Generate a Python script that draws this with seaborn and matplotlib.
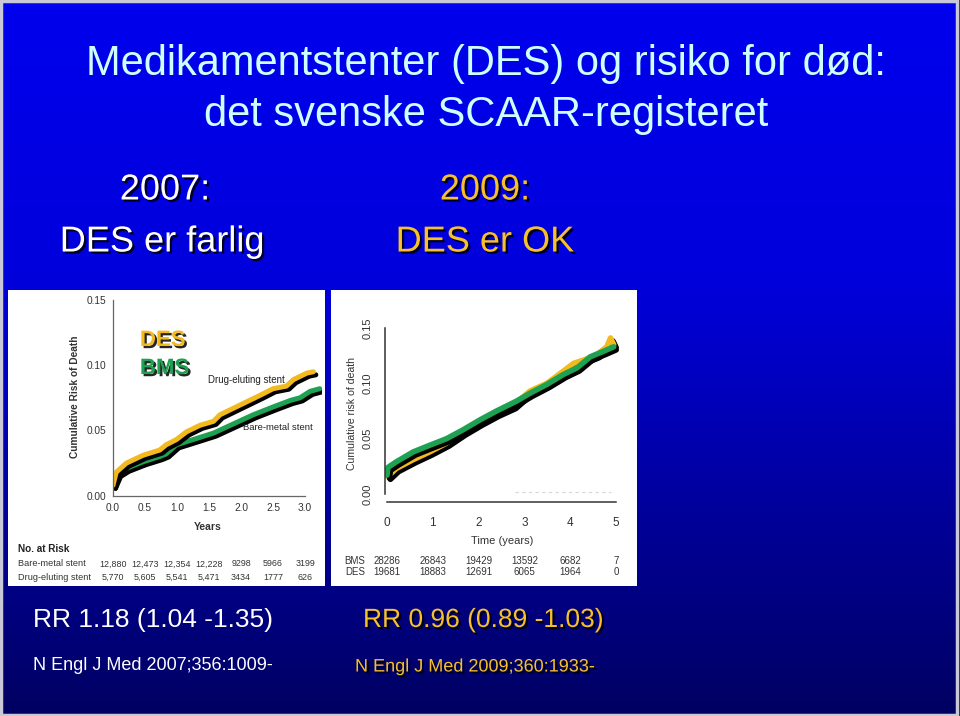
import numpy as np
import matplotlib
matplotlib.use("Agg")
import matplotlib.pyplot as plt
import matplotlib.patheffects as pe
from matplotlib.patches import Rectangle
import seaborn as sns

sns.set_theme(style="white")
plt.rcParams['font.family'] = ['Liberation Sans', 'DejaVu Sans']

# ---------------- data ----------------
# 2007 study (left chart)
des07_years = [0, 0.05, 0.21, 0.47, 0.73, 0.83, 0.99, 1.15, 1.36, 1.57, 1.67, 1.88,
               2.09, 2.30, 2.50, 2.71, 2.82, 3.03, 3.13]
des07_risk = [0.008, 0.018, 0.025, 0.031, 0.035, 0.039, 0.043, 0.049, 0.054, 0.057,
              0.062, 0.067, 0.072, 0.077, 0.082, 0.084, 0.089, 0.094, 0.095]
bms07_years = [0, 0.08, 0.21, 0.47, 0.73, 0.83, 0.99, 1.25, 1.57, 1.88, 2.19, 2.50,
               2.77, 2.92, 3.08, 3.23]
bms07_risk = [0.008, 0.017, 0.021, 0.026, 0.030, 0.032, 0.039, 0.043, 0.048, 0.055,
              0.062, 0.068, 0.073, 0.075, 0.080, 0.082]
risk07_ticks = [0.0, 0.5, 1.0, 1.5, 2.0, 2.5, 3.0]
risk07_bms = ["12,880", "12,473", "12,354", "12,228", "9298", "5966", "3199"]
risk07_des = ["5,770", "5,605", "5,541", "5,471", "3434", "1777", "626"]

# 2009 study (right chart)
bms09_years = [0, 0.02, 0.2, 0.57, 0.93, 1.3, 1.66, 2.03, 2.39, 2.83, 3.12, 3.49,
               3.85, 4.15, 4.44, 4.73, 4.95]
bms09_risk = [0.017, 0.024, 0.029, 0.038, 0.044, 0.050, 0.058, 0.067, 0.075, 0.084,
              0.091, 0.099, 0.108, 0.114, 0.124, 0.129, 0.133]
des09_years = [0.02, 0.2, 0.57, 0.93, 1.3, 1.66, 2.03, 2.39, 2.76, 3.12, 3.49, 3.85,
               4.07, 4.29, 4.58, 4.80, 4.88, 4.95]
des09_risk = [0.016, 0.023, 0.031, 0.038, 0.046, 0.056, 0.065, 0.073, 0.080, 0.093,
              0.100, 0.111, 0.118, 0.121, 0.126, 0.133, 0.141, 0.135]
faint09_years = [2.8, 4.9]
faint09_risk = [0.0015, 0.0015]
risk09_ticks = [0, 1, 2, 3, 4, 5]
risk09_bms = ["28286", "26843", "19429", "13592", "6682", "7"]
risk09_des = ["19681", "18883", "12691", "6065", "1964", "0"]

YELLOW = "#F2BA1E"
GREEN = "#1EA152"
TXT_YELLOW = "#F5C02A"

W, H = 960, 716
fig = plt.figure(figsize=(9.6, 7.16), dpi=100)

# ---------------- background gradient ----------------
bg = fig.add_axes([0, 0, 1, 1])
bg.set_axis_off()
ys = np.linspace(0, 1, 400)
top = np.array([0.0, 0.0, 0.93])
mid = np.array([0.0, 0.0, 0.86])
bot = np.array([0.0, 0.0, 0.38])
cols = []
for t in ys:
    py = t * H
    if py < 280:
        c = top + (mid - top) * (py / 280)
    else:
        c = mid + (bot - mid) * ((py - 280) / (H - 280))
    cols.append(c)
grad = np.array(cols)[:, None, :].repeat(2, axis=1)
bg.imshow(grad, aspect='auto', extent=[0, 1, 0, 1], origin='upper')
bg.set_xlim(0, 1)
bg.set_ylim(0, 1)
bg.add_patch(Rectangle((0.001, 0.002), 0.996, 0.996, fill=False, ec="#c8c8d8", lw=2.5,
                       transform=bg.transAxes))


def fx(px):
    return px / W


def fy(py):
    return 1 - py / H


# white panels
for (x0, y0, x1, y1) in [(8, 290, 325, 586), (331, 290, 637, 586)]:
    fig.patches.append(Rectangle((fx(x0), fy(y1)), fx(x1 - x0), (y1 - y0) / H,
                                 transform=fig.transFigure, fc="white", ec="none", zorder=1))

shadow_txt = [pe.withSimplePatchShadow(offset=(1.6, -1.6), shadow_rgbFace="black", alpha=0.85)]

# ---------------- slide text ----------------
fig.text(fx(486), fy(64), "Medikamentstenter (DES) og risiko for død:", ha="center",
         va="center", color="#CCFFFF", fontsize=30)
fig.text(fx(486), fy(115), "det svenske SCAAR-registeret", ha="center", va="center",
         color="#CCFFFF", fontsize=30)
fig.text(fx(165), fy(190), "2007:", ha="center", va="center", color="white",
         fontsize=26, path_effects=shadow_txt)
fig.text(fx(162), fy(242), "DES er farlig", ha="center", va="center", color="white",
         fontsize=26, path_effects=shadow_txt)
fig.text(fx(485), fy(190), "2009:", ha="center", va="center", color=TXT_YELLOW,
         fontsize=26, path_effects=shadow_txt)
fig.text(fx(485), fy(242), "DES er OK", ha="center", va="center", color=TXT_YELLOW,
         fontsize=26, path_effects=shadow_txt)
fig.text(fx(33), fy(620), "RR 1.18 (1.04 -1.35)", ha="left", va="center", color="white",
         fontsize=19)
fig.text(fx(363), fy(620), "RR 0.96 (0.89 -1.03)", ha="left", va="center",
         color=TXT_YELLOW, fontsize=19, path_effects=shadow_txt)
fig.text(fx(33), fy(665), "N Engl J Med 2007;356:1009-", ha="left", va="center",
         color="white", fontsize=13)
fig.text(fx(355), fy(667), "N Engl J Med 2009;360:1933-", ha="left", va="center",
         color=TXT_YELLOW, fontsize=13, path_effects=shadow_txt)

line_fx = [pe.SimpleLineShadow(offset=(1.8, -2.2), shadow_color="black", alpha=1.0),
           pe.Normal()]

# ---------------- left chart (2007) ----------------
L0, R0, B0, T0 = 113, 322, 495.7, 298
axL = fig.add_axes([fx(L0), fy(B0), fx(R0 - L0), (B0 - T0) / H])
axL.set_facecolor("none")
axL.set_zorder(3)
sns.lineplot(x=bms07_years, y=bms07_risk, ax=axL, color=GREEN, lw=3.6,
             path_effects=line_fx, sort=False)
sns.lineplot(x=des07_years, y=des07_risk, ax=axL, color=YELLOW, lw=3.6,
             path_effects=line_fx, sort=False)
axL.set_xlim(0, (R0 - L0) / 64.0)
axL.set_ylim(0, 0.15 * (B0 - T0) / (B0 - 300))
for s in ["top", "right"]:
    axL.spines[s].set_visible(False)
for s in ["left", "bottom"]:
    axL.spines[s].set_color("#666666")
    axL.spines[s].set_linewidth(0.9)
axL.spines["left"].set_bounds(0, 0.15)
axL.spines["bottom"].set_bounds(0, 3.0)
axL.set_xticks(risk07_ticks)
axL.set_xticklabels([f"{v:.1f}" for v in risk07_ticks])
axL.set_yticks([0.0, 0.05, 0.10, 0.15])
axL.set_yticklabels(["0.00", "0.05", "0.10", "0.15"])
axL.tick_params(axis="both", direction="out", length=3, width=0.8, color="#666666",
                labelsize=7.3, labelcolor="#333333", pad=2)
axL.set_xlabel("")
axL.set_ylabel("")
axL.text(-0.182, 0.5, "Cumulative Risk of Death", transform=axL.transAxes, rotation=90,
         ha="center", va="center", fontsize=7.3, fontweight="bold", color="#333333")
axL.text(0.455, -0.158, "Years", transform=axL.transAxes, ha="center", va="center",
         fontsize=7.5, fontweight="bold", color="#333333")
axL.text(1.49, 0.0887, "Drug-eluting stent", ha="left", va="center", fontsize=7,
         color="#222222")
axL.text(2.03, 0.052, "Bare-metal stent", ha="left", va="center", fontsize=6.8,
         color="#222222")
axL.text(0.42, 0.119, "DES", ha="left", va="center", fontsize=16, fontweight="bold",
         color=YELLOW, path_effects=shadow_txt)
axL.text(0.42, 0.0975, "BMS", ha="left", va="center", fontsize=16, fontweight="bold",
         color=GREEN, path_effects=shadow_txt)

def ay_left(py):
    return (B0 - py) / (B0 - T0)

axL.text((18 - L0) / (R0 - L0), ay_left(549), "No. at Risk", transform=axL.transAxes,
         ha="left", va="center", fontsize=7.2, fontweight="bold", color="#222222")
axL.text((18 - L0) / (R0 - L0), ay_left(564), "Bare-metal stent", transform=axL.transAxes,
         ha="left", va="center", fontsize=6.6, color="#333333")
axL.text((18 - L0) / (R0 - L0), ay_left(577), "Drug-eluting stent",
         transform=axL.transAxes, ha="left", va="center", fontsize=6.6,
         color="#333333")
trL = axL.get_xaxis_transform()
for xv, a, b in zip(risk07_ticks, risk07_bms, risk07_des):
    axL.text(xv, ay_left(564), a, transform=trL, ha="center", va="center",
             fontsize=6.4, color="#333333")
    axL.text(xv, ay_left(577), b, transform=trL, ha="center", va="center",
             fontsize=6.4, color="#333333")

# ---------------- right chart (2009) ----------------
L1, R1, B1, T1 = 385, 625, 502, 320
px_x = (616 - 387) / 5.0
px_y = (494 - 328) / 0.15
axR = fig.add_axes([fx(L1), fy(B1), fx(R1 - L1), (B1 - T1) / H])
axR.set_facecolor("none")
axR.set_zorder(3)
sns.lineplot(x=faint09_years, y=faint09_risk, ax=axR, color="#d8d8d8", lw=0.8,
             linestyle=(0, (3, 3)), sort=False)
sns.lineplot(x=des09_years, y=des09_risk, ax=axR, color=YELLOW, lw=4.0,
             path_effects=line_fx, sort=False)
sns.lineplot(x=bms09_years, y=bms09_risk, ax=axR, color=GREEN, lw=4.0,
             path_effects=line_fx, sort=False)
axR.set_xlim(-(387 - L1) / px_x, (R1 - 387) / px_x)
axR.set_ylim(-(B1 - 494) / px_y, (494 - T1) / px_y)
for s in ["top", "right"]:
    axR.spines[s].set_visible(False)
for s in ["left", "bottom"]:
    axR.spines[s].set_color("#333333")
    axR.spines[s].set_linewidth(1.1)
axR.spines["left"].set_bounds(0, 0.15)
axR.spines["bottom"].set_bounds(0, 5)
axR.set_xticks(risk09_ticks)
axR.set_xticklabels([str(v) for v in risk09_ticks])
axR.set_yticks([0.0, 0.05, 0.10, 0.15])
axR.set_yticklabels(["0.00", "0.05", "0.10", "0.15"])
axR.tick_params(axis="x", direction="out", length=5, width=1.0, color="#333333",
                labelsize=8.5, labelcolor="#333333", pad=6)
axR.tick_params(axis="y", direction="out", length=5, width=1.0, color="#333333",
                labelsize=8, labelcolor="#333333", pad=4)
for lab in axR.get_yticklabels():
    lab.set_rotation(90)
    lab.set_va("center")
axR.set_xlabel("")
axR.set_ylabel("")

def ax_right(px):
    return (px - L1) / (R1 - L1)

def ay_right(py):
    return (B1 - py) / (B1 - T1)

axR.text(ax_right(502), ay_right(541), "Time (years)", transform=axR.transAxes,
         ha="center", va="center", fontsize=8, color="#333333")
axR.text(ax_right(352), ay_right(413), "Cumulative risk of death", transform=axR.transAxes,
         rotation=90, ha="center", va="center", fontsize=7.6, color="#333333")
axR.text(ax_right(355), ay_right(561), "BMS", transform=axR.transAxes, ha="center",
         va="center", fontsize=7, color="#333333")
axR.text(ax_right(355), ay_right(572), "DES", transform=axR.transAxes, ha="center",
         va="center", fontsize=7, color="#333333")
trR = axR.get_xaxis_transform()
for xv, a, b in zip(risk09_ticks, risk09_bms, risk09_des):
    axR.text(xv, ay_right(561), a, transform=trR, ha="center", va="center",
             fontsize=7, color="#333333")
    axR.text(xv, ay_right(572), b, transform=trR, ha="center", va="center",
             fontsize=7, color="#333333")

for ax in (axL, axR):
    for t in ax.texts:
        t.set_clip_on(False)

fig.savefig("out.png", dpi=100)
